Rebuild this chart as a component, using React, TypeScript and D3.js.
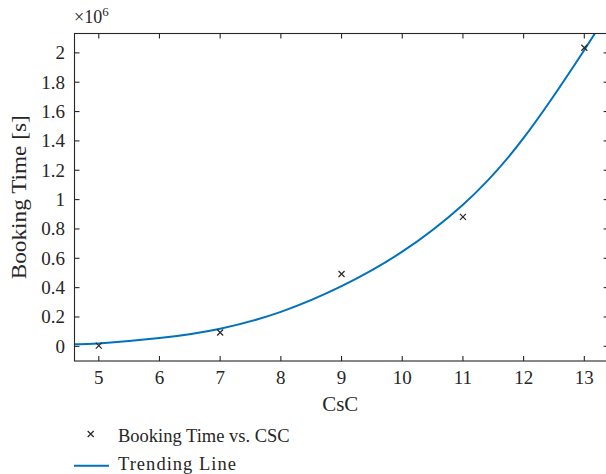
import React from "react";
import * as d3 from "d3";

const csc = [5, 7, 9, 11, 13];
const bookingTime = [0.005, 0.094, 0.493, 0.882, 2.035]; // ×10^6 s

const trendX = [4.6, 5, 6, 7, 8, 9, 10, 11, 12, 13, 13.17];
const trendY = [0.015, 0.02, 0.056, 0.12, 0.235, 0.41, 0.645, 0.965, 1.42, 2.02, 2.132];

const xTicks = [5, 6, 7, 8, 9, 10, 11, 12, 13];
const yTicks = [0, 0.2, 0.4, 0.6, 0.8, 1, 1.2, 1.4, 1.6, 1.8, 2];

const W = 606;
const H = 474;
const L = 74.5, R = 608.6, T = 33.5, B = 361;
const FONT = "'Liberation Serif', 'Times New Roman', serif";
const AX = "#262626";
const BLUE = "#0072BD";

export default function App() {
  const x = d3.scaleLinear().domain([4.6, 13.4]).range([L, R]);
  const y = d3.scaleLinear().domain([-0.1, 2.132]).range([B, T]);
  const line = d3
    .line<number>()
    .x((_, i) => x(trendX[i]))
    .y((d) => y(d))
    .curve(d3.curveNatural);
  const tl = 5;
  return (
    <svg width={W} height={H} style={{ position: "absolute", left: 0, top: 0, background: "#fff" }} fontFamily={FONT}>
      <defs>
        <clipPath id="plot">
          <rect x={L} y={T} width={R - L} height={B - T} />
        </clipPath>
      </defs>
      <rect x={0} y={0} width={W} height={H} fill="#fff" />
      <path d={line(trendY) || ""} fill="none" stroke={BLUE} strokeWidth={2} clipPath="url(#plot)" />
      {csc.map((c, i) => {
        const cx = x(c), cy = y(bookingTime[i]), s = 3;
        return (
          <path key={c} d={`M${cx - s},${cy - s}L${cx + s},${cy + s}M${cx - s},${cy + s}L${cx + s},${cy - s}`} stroke={AX} strokeWidth={1.2} />
        );
      })}
      <rect x={L} y={T} width={R - L} height={B - T} fill="none" stroke={AX} strokeWidth={1.1} />
      {xTicks.map((t) => (
        <g key={t}>
          <line x1={x(t)} x2={x(t)} y1={B} y2={B - tl} stroke={AX} strokeWidth={1.1} />
          <line x1={x(t)} x2={x(t)} y1={T} y2={T + tl} stroke={AX} strokeWidth={1.1} />
          <text x={x(t)} y={384} textAnchor="middle" fontSize={19} fill={AX}>{t}</text>
        </g>
      ))}
      {yTicks.map((t) => (
        <g key={t}>
          <line x1={L} x2={L + tl} y1={y(t)} y2={y(t)} stroke={AX} strokeWidth={1.1} />
          <line x1={R} x2={R - tl} y1={y(t)} y2={y(t)} stroke={AX} strokeWidth={1.1} />
          <text x={65} y={y(t)} dy="0.34em" textAnchor="end" fontSize={19} fill={AX}>{t}</text>
        </g>
      ))}
      <text x={74} y={23} fontSize={18} fill={AX}>×10<tspan dy={-7} fontSize={13}>6</tspan></text>
      <text x={(L + 606) / 2} y={411} textAnchor="middle" fontSize={21} fill={AX} textLength={36} lengthAdjust="spacingAndGlyphs">CsC</text>
      <text transform={`translate(26,${(T + B) / 2}) rotate(-90)`} textAnchor="middle" fontSize={21} fill={AX} textLength={164} lengthAdjust="spacingAndGlyphs">Booking Time [s]</text>
      <path d="M87.7,431L93.7,437M87.7,437L93.7,431" stroke={AX} strokeWidth={1.2} />
      <text x={118} y={442} fontSize={18.5} fill={AX}>Booking Time vs. CSC</text>
      <line x1={74} x2={109} y1={465.7} y2={465.7} stroke={BLUE} strokeWidth={2} />
      <text x={118} y={470} fontSize={18.5} fill={AX} textLength={118} lengthAdjust="spacing">Trending Line</text>
    </svg>
  );
}
